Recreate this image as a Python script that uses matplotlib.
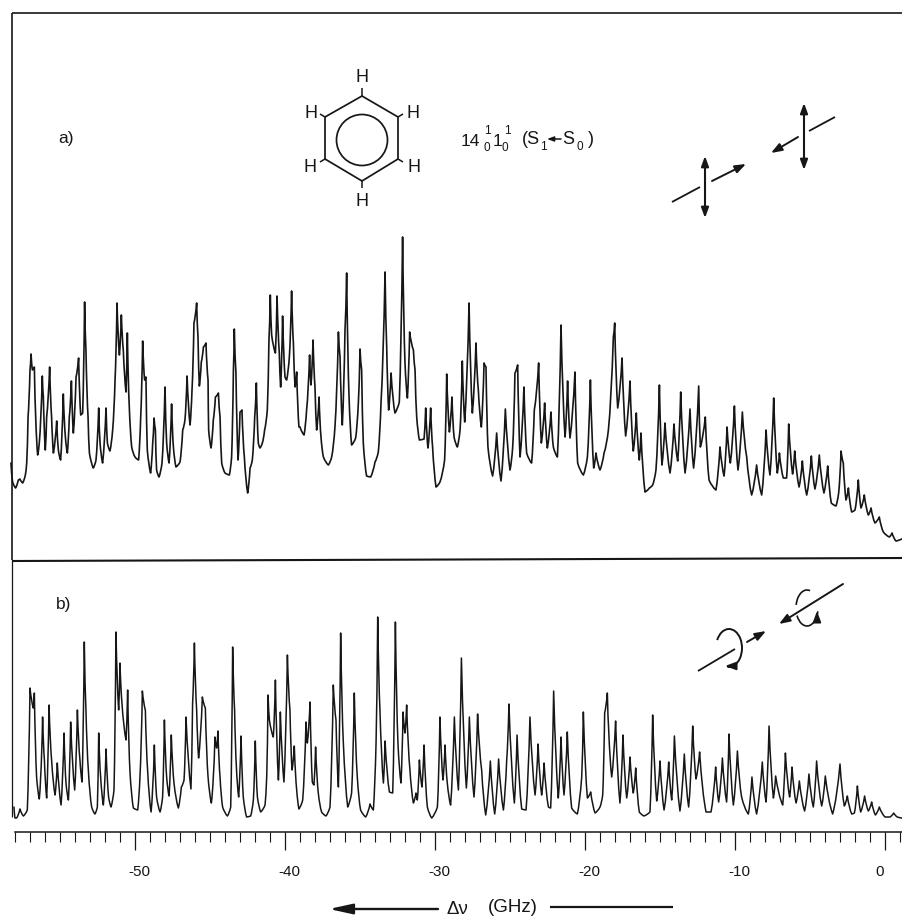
import matplotlib
matplotlib.use("Agg")
import matplotlib.pyplot as plt
from matplotlib.patches import Arc, Circle, Polygon, PathPatch
from matplotlib.path import Path
from matplotlib.ticker import FixedLocator
from matplotlib.transforms import ScaledTranslation

plt.rcParams['font.family'] = ['Liberation Sans', 'DejaVu Sans']

# spectrum a): frequency offset (GHz), intensity (arb.)
freq_a = [-58.27,-58.16,-57.96,-57.78,-57.67,-57.49,-57.31,-57.22,-57.13,-57.00,-56.93,-56.84,-56.71,-56.62,-56.49,-56.38,-56.18,-56.11,-55.98,-55.89,-55.69,-55.56,-55.44,-55.22,-55.11,-54.96,-54.78,-54.64,-54.51,-54.38,-54.24,-54.11,-53.93,-53.76,-53.62,-53.49,-53.36,-53.27,-53.13,-53.04,-52.78,-52.60,-52.42,-52.33,-52.16,-51.93,-51.84,-51.67,-51.49,-51.33,-51.20,-51.04,-50.91,-50.78,-50.60,-50.51,-50.38,-50.22,-50.00,-49.76,-49.62,-49.49,-49.36,-49.27,-49.18,-48.96,-48.82,-48.73,-48.64,-48.56,-48.40,-48.20,-48.00,-47.89,-47.73,-47.56,-47.44,-47.27,-47.00,-46.82,-46.67,-46.53,-46.33,-46.20,-46.07,-45.89,-45.80,-45.71,-45.58,-45.44,-45.27,-45.13,-45.09,-44.93,-44.78,-44.64,-44.44,-44.33,-44.22,-44.00,-43.71,-43.56,-43.44,-43.38,-43.27,-43.13,-43.00,-42.87,-42.71,-42.49,-42.33,-42.18,-42.02,-41.91,-41.78,-41.67,-41.51,-41.36,-41.18,-41.07,-40.98,-40.89,-40.64,-40.53,-40.38,-40.29,-40.16,-40.00,-39.89,-39.71,-39.56,-39.44,-39.33,-39.22,-39.07,
 -39.00,-38.73,-38.56,-38.36,-38.27,-38.13,-38.00,-37.89,-37.73,-37.60,-37.44,-37.11,-36.89,-36.67,-36.44,-36.33,-36.18,-36.00,-35.89,-35.73,-35.56,-35.29,-35.11,-35.00,-34.89,-34.78,-34.56,-34.29,-34.00,-33.78,-33.60,-33.33,-33.22,-33.09,-32.93,-32.67,-32.38,-32.16,-32.00,-31.84,-31.69,-31.44,-31.33,-31.22,-31.04,-30.73,-30.62,-30.47,-30.29,-30.16,-29.93,-29.67,-29.36,-29.22,-29.04,-28.87,-28.73,-28.51,-28.33,-28.18,-28.02,-27.73,-27.51,-27.27,-27.11,-26.91,-26.73,-26.60,-26.47,-26.16,-25.89,-25.60,-25.31,-25.00,-24.82,-24.67,-24.49,-24.33,-24.07,-23.89,-23.56,-23.38,-23.09,-22.91,-22.69,-22.51,-22.27,-22.11,-21.84,-21.60,-21.33,-21.16,-21.00,-20.67,-20.49,-20.11,-19.84,-19.64,-19.42,-19.27,-19.00,
 -18.73,-18.44,-18.11,-18.02,-17.82,-17.53,-17.29,-17.00,-16.78,-16.58,-16.38,-16.27,-16.00,-15.71,-15.49,-15.27,-15.04,-14.87,-14.67,-14.33,-14.07,-13.82,-13.62,-13.33,-13.00,-12.76,-12.42,-12.31,-11.98,-11.73,-11.27,-11.00,-10.73,-10.53,-10.31,-10.04,-9.80,-9.51,-9.22,-8.89,-8.56,-8.22,-7.93,-7.67,-7.42,-7.18,-7.04,-6.78,-6.56,-6.42,-6.16,-6.02,-5.73,-5.51,-5.22,-4.91,-4.67,-4.38,-4.07,-3.82,-3.58,-3.27,-3.09,-2.93,-2.78,-2.60,-2.44,-2.22,-2.00,-1.78,-1.60,-1.38,-1.11,-0.93,-0.67,-0.38,-0.11,0.29,0.47,0.73,1.11]
intensity_a = [80,61,55,63,64,60,68,80,126,173,189,173,176,126,88,100,167,146,93,126,176,126,90,122,93,83,149,106,90,126,162,110,166,185,128,130,241,193,126,90,75,83,135,100,80,135,100,92,113,163,240,188,228,193,151,210,136,96,86,83,126,202,163,166,93,70,100,125,113,73,66,80,156,100,80,139,96,76,81,113,123,167,118,153,220,240,206,157,181,196,200,163,113,95,123,146,150,126,80,70,68,86,173,214,170,83,131,133,86,50,75,83,126,160,100,95,100,113,133,203,248,208,190,247,190,156,227,166,163,186,252,200,156,171,116,
 116,108,133,188,158,203,156,113,146,106,86,78,86,116,211,186,118,213,270,146,98,105,140,194,173,100,67,66,81,91,140,271,196,133,170,130,141,306,180,145,211,193,173,126,103,104,135,95,135,96,56,61,83,169,111,146,106,96,113,182,121,240,130,200,153,116,180,176,96,67,110,62,134,73,96,170,178,86,156,90,80,133,180,100,140,95,131,96,86,218,106,162,105,171,80,68,86,163,75,90,73,
 90,113,206,220,135,185,107,162,92,130,83,110,51,55,58,73,158,78,120,70,119,82,151,70,134,75,157,96,126,63,53,96,67,116,80,137,73,131,86,48,78,48,113,68,145,70,90,65,65,119,69,92,56,82,48,87,54,88,50,77,40,37,50,92,80,43,55,31,33,63,35,48,28,35,20,26,11,6,10,2,4]

# spectrum b): frequency offset (GHz), intensity (arb.)
freq_b = [-58.07,-58.00,-57.89,-57.67,-57.44,-57.18,-57.00,-56.78,-56.71,-56.56,-56.38,-56.29,-56.16,-56.04,-55.89,-55.73,-55.56,-55.33,-55.18,-54.93,-54.73,-54.60,-54.44,-54.29,-54.02,-53.84,-53.67,-53.53,-53.38,-53.27,-53.11,-52.89,-52.67,-52.51,-52.42,-52.29,-52.11,-51.93,-51.76,-51.60,-51.40,-51.27,-51.09,-51.00,-50.87,-50.60,-50.49,-50.33,-50.11,-49.82,-49.67,-49.51,-49.31,-49.16,-48.93,-48.82,-48.71,-48.56,-48.33,-48.16,-48.04,-47.89,-47.73,-47.58,-47.40,-47.11,-46.91,-46.73,-46.60,-46.27,-46.16,-46.04,-45.89,-45.76,-45.51,-45.31,-45.13,-44.91,-44.78,-44.67,-44.56,-44.47,-44.33,-44.16,-43.84,-43.62,-43.49,-43.36,-43.24,-43.09,-42.93,-42.78,-42.56,-42.29,-42.11,-41.98,-41.84,-41.62,-41.33,-41.22,-41.13,-41.04,-40.78,-40.64,-40.44,-40.31,-40.07,-39.84,-39.67,-39.53,-39.38,-39.22,-39.07,
 -39.00,-38.82,-38.60,-38.51,-38.33,-38.18,-38.07,-37.96,-37.78,-37.56,-37.27,-37.00,-36.78,-36.60,-36.44,-36.29,-36.11,-35.82,-35.56,-35.38,-35.18,-34.96,-34.62,-34.33,-34.11,-33.93,-33.82,-33.67,-33.44,-33.33,-33.04,-32.82,-32.64,-32.47,-32.27,-32.13,-32.00,-31.89,-31.67,-31.44,-31.27,-31.18,-31.04,-30.87,-30.73,-30.51,-30.22,-29.84,-29.67,-29.47,-29.33,-29.18,-28.96,-28.71,-28.44,-28.24,-27.91,-27.71,-27.40,-27.16,-26.89,-26.62,-26.31,-26.02,-25.76,-25.44,-25.22,-25.07,-24.71,-24.53,-24.22,-23.93,-23.67,-23.33,-23.13,-22.89,-22.73,-22.44,-22.29,-22.09,-21.78,-21.60,-21.40,-21.18,-20.89,-20.51,-20.22,-20.11,-19.84,-19.62,-19.33,-19.00,
 -18.82,-18.69,-18.51,-18.42,-18.22,-17.96,-17.67,-17.47,-17.22,-17.00,-16.78,-16.62,-16.38,-16.07,-15.67,-15.49,-15.22,-15.00,-14.73,-14.42,-14.22,-14.04,-13.67,-13.38,-13.09,-12.82,-12.60,-12.36,-11.93,-11.60,-11.29,-11.09,-10.84,-10.56,-10.40,-10.11,-9.84,-9.56,-9.11,-8.87,-8.56,-8.18,-7.93,-7.73,-7.44,-7.29,-6.82,-6.64,-6.36,-6.20,-5.93,-5.71,-5.36,-5.07,-4.78,-4.56,-4.22,-3.98,-3.49,-3.00,-2.71,-2.51,-2.22,-2.04,-1.84,-1.62,-1.36,-1.11,-0.89,-0.64,-0.38,0.00,0.33,0.58,0.82,1.11]
intensity_b = [16,5,5,14,7,13,135,115,130,46,24,46,106,63,25,118,63,28,60,18,90,40,23,101,33,113,63,41,181,113,53,16,9,16,90,46,18,74,26,16,33,191,113,160,120,83,133,50,15,13,46,132,113,53,11,36,78,26,11,26,103,46,27,88,40,15,36,43,106,34,120,180,113,65,126,115,46,20,46,86,75,92,46,16,7,16,176,113,56,26,87,26,6,7,23,82,26,11,18,46,128,103,86,143,43,111,41,168,113,53,77,33,14,
 16,23,101,80,121,41,38,76,30,11,7,16,138,103,36,190,80,16,30,130,46,13,6,19,13,80,206,113,40,82,31,30,201,80,40,111,90,118,53,20,30,23,63,36,78,16,5,16,106,43,78,40,18,106,33,165,35,106,26,109,53,8,62,9,64,13,63,119,20,88,14,13,106,28,79,28,60,16,15,132,25,86,28,91,15,9,46,111,25,31,10,16,
 28,110,130,93,46,102,20,88,25,66,30,55,11,7,11,108,22,62,13,61,23,87,12,69,16,97,44,71,11,11,56,21,65,21,89,18,72,26,9,46,9,61,21,97,25,47,18,70,26,56,20,42,12,49,16,62,17,47,9,59,17,27,9,10,37,11,27,12,21,8,16,6,6,10,6,5]

major_ticks = [-50, -40, -30, -20, -10, 0]
minor_ticks = list(range(-58, 2))
tick_labels = ['-50', '-40', '-30', '-20', '-10', '0']

W, H = 902, 919
INK = '#161616'
fig = plt.figure(figsize=(W / 100, H / 100), dpi=100, facecolor='white')
XLIM = (-59, -59 + W / 15)


def panel(top, bottom):
    return [0, 1 - bottom / H, 1, (bottom - top) / H]


def trace(ax, xs, ys, lw):
    """Join the read points with curves that are a little rounder in a valley than at a peak."""
    verts = [(xs[0], ys[0])]
    codes = [Path.MOVETO]
    for x0, y0, x1, y1 in zip(xs[:-1], ys[:-1], xs[1:], ys[1:]):
        dx, dy = x1 - x0, y1 - y0
        if dy >= 0:
            ctrl = (x0 + 0.58 * dx, y0 + 0.30 * dy)
        else:
            ctrl = (x0 + 0.42 * dx, y1 - 0.30 * dy)
        verts += [ctrl, (x1, y1)]
        codes += [Path.CURVE3, Path.CURVE3]
    ax.add_patch(PathPatch(Path(verts, codes), fill=False, ec=INK, lw=lw,
                           joinstyle='round', capstyle='round'))


# panel a: baseline (zero intensity) at pixel row 543
ax_a = fig.add_axes(panel(0, 543))
trace(ax_a, freq_a, intensity_a, 1.2)
ax_a.set_xlim(*XLIM)
ax_a.set_ylim(0, 543)
ax_a.axis('off')

# panel b: baseline at pixel row 823, axis line at 832
ax_b = fig.add_axes(panel(570, 832))
trace(ax_b, freq_b, intensity_b, 1.1)
ax_b.set_xlim(*XLIM)
ax_b.set_ylim(-9, 253)
ax_b.patch.set_alpha(0)
for s in ('top', 'left', 'right'):
    ax_b.spines[s].set_visible(False)
ax_b.spines['bottom'].set_bounds(-58, XLIM[1])
ax_b.spines['bottom'].set_linewidth(1.1)
ax_b.spines['bottom'].set_color(INK)
ax_b.set_yticks([])
ax_b.xaxis.set_major_locator(FixedLocator(major_ticks))
ax_b.xaxis.set_minor_locator(FixedLocator(minor_ticks))
ax_b.set_xticklabels(tick_labels)
ax_b.tick_params(axis='x', which='major', length=13, width=0.9, pad=11, labelsize=11, color=INK, labelcolor=INK)
ax_b.tick_params(axis='x', which='minor', length=7, width=0.8, color=INK)
for lab, text in zip(ax_b.get_xticklabels(), tick_labels):
    shift = -5 if text == '0' else 4
    lab.set_transform(lab.get_transform() + ScaledTranslation(shift / 100, 0, fig.dpi_scale_trans))

# overlay in figure pixels for frame and annotation artwork
ov = fig.add_axes([0, 0, 1, 1])
ov.set_xlim(0, W)
ov.set_ylim(H, 0)
ov.axis('off')
ov.patch.set_alpha(0)


def line(x0, y0, x1, y1, lw=1.1):
    ov.plot([x0, x1], [y0, y1], color=INK, lw=lw, solid_capstyle='butt')


def arrow(x0, y0, x1, y1, lw=1.4, ms=10, hl=0.65, hw=0.24):
    ov.annotate('', xy=(x1, y1), xytext=(x0, y0),
                arrowprops=dict(arrowstyle=f'-|>,head_length={hl},head_width={hw}', color=INK,
                                lw=lw, mutation_scale=ms, shrinkA=0, shrinkB=0))


def txt(x, y, s, size=12, **kw):
    ov.text(x, y, s, fontsize=size, ha='center', va='center', color=INK, **kw)


# frame
line(12, 13, 902, 13, 1.2)
line(12, 13, 12, 560, 1.2)
line(12, 561, 902, 558, 1.5)
line(12, 560, 12, 817, 0.9)

# panel letters
txt(66, 139, 'a)', 12.5)
txt(64, 604, 'b)', 12.5)

# benzene
ov.add_patch(Polygon([(362, 96), (398, 117), (398, 159), (362, 181), (325, 159), (325, 117)],
                     closed=True, fill=False, ec=INK, lw=1.25))
ov.add_patch(Circle((362, 140), 25.5, fill=False, ec=INK, lw=1.25))
for x0, y0, x1, y1 in [(362, 96, 362, 88), (398, 117, 403, 114), (398, 159, 403, 162),
                       (362, 181, 362, 188), (325, 159, 320, 162), (325, 117, 320, 114)]:
    line(x0, y0, x1, y1)
for x, y in [(362, 78), (311, 113), (413, 113), (310, 167), (414, 167), (362, 202)]:
    txt(x, y, 'H', 13)

# transition label
txt(470, 141, '14', 12.5)
txt(487, 131, '1', 8.5)
txt(487, 148, '0', 8.5)
txt(498, 141, '1', 12.5)
txt(507, 131, '1', 8.5)
txt(505, 148, '0', 8.5)
txt(531, 140, '(S', 13)
txt(543, 147, '1', 8.5)
arrow(561, 139, 547, 139, 1.1, 6)
txt(568, 140, 'S', 13)
txt(580, 147, '0', 8.5)
txt(591, 140, ')', 13)

# polarisation sketch, linear
line(672, 202, 700, 187, 1.3)
arrow(712, 181, 746, 164)
arrow(705, 187, 705, 156, 1.5, 10, 0.6, 0.22)
arrow(705, 187, 705, 218, 1.5, 10, 0.6, 0.22)
line(835, 117, 809, 131, 1.3)
arrow(798, 137, 771, 153)
arrow(804, 137, 804, 103, 1.5, 10, 0.6, 0.22)
arrow(804, 137, 804, 170, 1.5, 10, 0.6, 0.22)

# polarisation sketch, circular
line(698, 671, 735, 649, 1.3)
arrow(747, 642, 766, 631)
arrow(843, 584, 779, 624)
ov.add_patch(Arc((729, 648), 26, 38, theta1=214, theta2=455, ec=INK, lw=1.4))
arrow(731, 666, 725, 666, 1.3, 10)
ov.add_patch(Arc((807, 608), 22, 36, theta1=196, theta2=280, ec=INK, lw=1.2))
ov.add_patch(Arc((807, 608), 22, 36, theta1=17, theta2=143, ec=INK, lw=1.2))
arrow(817, 618, 817, 611, 1.3, 10)

# axis title
arrow(438, 909, 329, 909, 1.7, 14, 1.0, 0.22)
txt(457, 909, 'Δν', 13.5)
txt(513, 908, '(GHz)', 13.5)
line(550, 907, 673, 907, 1.6)

fig.savefig('out.png', dpi=100, facecolor='white')
